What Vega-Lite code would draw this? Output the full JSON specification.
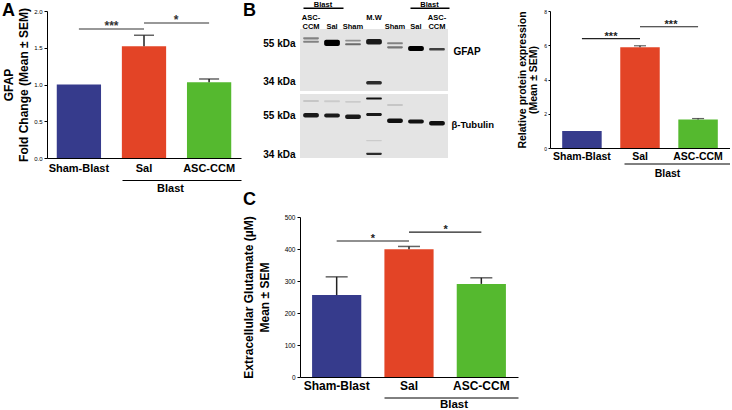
{
  "$schema": "https://vega.github.io/schema/vega-lite/v6.json",
  "padding": {"left": 2, "top": 0, "right": 0, "bottom": 0},
  "background": "white",
  "config": {
    "view": {"stroke": null},
    "font": "Liberation Sans",
    "axis": {"grid": false, "domainColor": "#000", "tickColor": "#000", "labelColor": "#000", "titleColor": "#000", "labelFont": "Liberation Sans", "titleFont": "Liberation Sans", "labelOverlap": false},
    "title": {"font": "Liberation Sans", "color": "#000"},
    "text": {"font": "Liberation Sans"}
  },
  "datasets": {
    "a": [
      {"g": "Sham-Blast", "mean": 1.0},
      {"g": "Sal", "mean": 1.52, "upper": 1.67},
      {"g": "ASC-CCM", "mean": 1.03, "upper": 1.075}
    ],
    "sa": [
      {"from": "Sham-Blast", "to": "Sal", "y": 1.755, "label": "***"},
      {"from": "Sal", "to": "ASC-CCM", "y": 1.837, "label": "*"}
    ],
    "b": [
      {"g": "Sham-Blast", "mean": 1.0},
      {"g": "Sal", "mean": 5.88, "upper": 5.97},
      {"g": "ASC-CCM", "mean": 1.66, "upper": 1.72}
    ],
    "sb": [
      {"from": "Sham-Blast", "to": "Sal", "y": 6.39, "label": "***"},
      {"from": "Sal", "to": "ASC-CCM", "y": 7.08, "label": "***"}
    ],
    "c": [
      {"g": "Sham-Blast", "mean": 256, "upper": 313},
      {"g": "Sal", "mean": 399, "upper": 408},
      {"g": "ASC-CCM", "mean": 291, "upper": 310}
    ],
    "sc": [
      {"from": "Sham-Blast", "to": "Sal", "y": 425, "label": "*"},
      {"from": "Sal", "to": "ASC-CCM", "y": 453, "label": "*"}
    ],
    "grp": [{"grp": "Blast"}],
    "gfap": [
      {"lane": 1, "hi": 59.1, "lo": 57.6, "v": 0.4},
      {"lane": 1, "hi": 56.6, "lo": 55.2, "v": 0.4},
      {"lane": 2, "hi": 57.3, "lo": 53.0, "v": 1.0},
      {"lane": 3, "hi": 57.3, "lo": 56.1, "v": 0.35},
      {"lane": 3, "hi": 54.8, "lo": 53.4, "v": 0.5},
      {"lane": 4, "hi": 57.9, "lo": 54.0, "v": 0.9},
      {"lane": 4, "hi": 34.0, "lo": 32.5, "v": 0.8},
      {"lane": 5, "hi": 55.5, "lo": 54.1, "v": 0.4},
      {"lane": 5, "hi": 52.8, "lo": 51.4, "v": 0.45},
      {"lane": 6, "hi": 53.0, "lo": 49.7, "v": 1.0},
      {"lane": 7, "hi": 51.6, "lo": 50.0, "v": 0.7}
    ],
    "tub": [
      {"lane": 1, "hi": 56.4, "lo": 53.3, "v": 0.9},
      {"lane": 1, "hi": 66.2, "lo": 64.6, "v": 0.12},
      {"lane": 2, "hi": 56.0, "lo": 53.3, "v": 0.9},
      {"lane": 2, "hi": 66.0, "lo": 64.4, "v": 0.1},
      {"lane": 3, "hi": 55.35, "lo": 52.4, "v": 0.9},
      {"lane": 3, "hi": 65.5, "lo": 64.0, "v": 0.1},
      {"lane": 4, "hi": 68.3, "lo": 66.6, "v": 0.95},
      {"lane": 4, "hi": 56.4, "lo": 54.3, "v": 0.9},
      {"lane": 4, "hi": 40.5, "lo": 39.8, "v": 0.1},
      {"lane": 4, "hi": 34.6, "lo": 33.6, "v": 0.8},
      {"lane": 5, "hi": 52.7, "lo": 49.8, "v": 0.95},
      {"lane": 5, "hi": 63.0, "lo": 61.5, "v": 0.12},
      {"lane": 6, "hi": 52.0, "lo": 49.55, "v": 0.95},
      {"lane": 7, "hi": 51.1, "lo": 48.3, "v": 0.95}
    ],
    "panel": [{"t": 0}]
  },
  "columns": 3,
  "align": "each",
  "bounds": "flush",
  "spacing": {"row": 59, "column": 32},
  "concat": [
    {
      "width": 194, "height": 147,
      "title": {"text": "A", "anchor": "start", "frame": "group", "dx": -45, "offset": -26, "baseline": "alphabetic", "fontSize": 18, "fontWeight": "bold"},
      "layer": [
        {
          "data": {"name": "a"},
          "mark": {"type": "bar"},
          "encoding": {
            "x": {"field": "g", "type": "nominal", "sort": null,
              "scale": {"domain": ["Sham-Blast", "Sal", "ASC-CCM"], "paddingInner": 0.32, "paddingOuter": 0.15},
              "axis": {"title": null, "labelAngle": 0, "labelFontSize": 11, "labelFontWeight": "bold", "ticks": false, "tickSize": 0, "labelPadding": 4, "domainWidth": 1}},
            "y": {"field": "mean", "type": "quantitative", "scale": {"domain": [0, 2], "nice": false},
              "axis": {"values": [0, 0.5, 1, 1.5, 2], "tickCount": 10, "format": ".1f", "labelOverlap": false, "labelFontSize": 6, "tickSize": 3, "labelPadding": 2, "title": ["GFAP", "Fold Change (Mean ± SEM)"], "titleFontSize": 12, "titleFontWeight": "bold", "titlePadding": 3, "titleLineHeight": 15, "domainWidth": 1}},
            "color": {"field": "g", "type": "nominal", "scale": {"domain": ["Sham-Blast", "Sal", "ASC-CCM"], "range": ["#363b8c", "#e34426", "#55b92f"]}, "legend": null}
          }
        },
        {
          "data": {"name": "a"},
          "transform": [{"filter": "isValid(datum.upper)"}],
          "mark": {"type": "rule", "strokeWidth": 1.5, "color": "#222"},
          "encoding": {
            "x": {"field": "g", "type": "nominal", "sort": null, "scale": {"domain": ["Sham-Blast", "Sal", "ASC-CCM"], "paddingInner": 0.32, "paddingOuter": 0.15}, "axis": null},
            "y": {"field": "mean", "type": "quantitative"}, "y2": {"field": "upper"}}
        },
        {
          "data": {"name": "a"},
          "transform": [{"filter": "isValid(datum.upper)"}],
          "mark": {"type": "tick", "orient": "horizontal", "size": 20, "thickness": 1.5, "color": "#222"},
          "encoding": {
            "x": {"field": "g", "type": "nominal", "sort": null, "scale": {"domain": ["Sham-Blast", "Sal", "ASC-CCM"], "paddingInner": 0.32, "paddingOuter": 0.15}, "axis": null},
            "y": {"field": "upper", "type": "quantitative"}}
        },
        {
          "data": {"name": "sa"},
          "mark": {"type": "rule", "strokeWidth": 1.2, "color": "#333"},
          "encoding": {
            "x": {"field": "from", "type": "nominal", "sort": null, "scale": {"domain": ["Sham-Blast", "Sal", "ASC-CCM"], "paddingInner": 0.32, "paddingOuter": 0.15}, "axis": null},
            "x2": {"field": "to"}, "y": {"field": "y", "type": "quantitative"}}
        },
        {
          "data": {"name": "sa"},
          "mark": {"type": "text", "fontSize": 12, "fontWeight": "bold", "baseline": "alphabetic", "dy": 1, "dx": -32.5, "color": "#333"},
          "encoding": {
            "x": {"field": "to", "type": "nominal", "sort": null, "scale": {"domain": ["Sham-Blast", "Sal", "ASC-CCM"], "paddingInner": 0.32, "paddingOuter": 0.15}, "axis": null},
            "y": {"field": "y", "type": "quantitative"}, "text": {"field": "label"}}
        },
        {
          "data": {"name": "grp"},
          "mark": {"type": "point", "opacity": 0},
          "encoding": {
            "x": {"field": "grp", "type": "nominal",
              "scale": {"type": "band", "domain": ["Blast"], "range": [75, 194], "paddingInner": 0, "paddingOuter": 0},
              "axis": {"orient": "bottom", "offset": 22, "title": null, "ticks": false, "tickSize": 0, "domainWidth": 1, "labelFontSize": 11, "labelFontWeight": "bold", "labelPadding": 2.5, "labelOffset": -11, "labelAngle": 0}},
            "y": {"datum": 0, "type": "quantitative"}
          }
        }
      ],
      "resolve": {"scale": {"x": "independent"}}
    },
    {
      "width": 148, "height": 147,
      "title": {"text": "B", "anchor": "start", "frame": "group", "dx": -57, "offset": -33, "baseline": "alphabetic", "fontSize": 18, "fontWeight": "bold"},
      "layer": [
        {
          "data": {"name": "panel"},
          "mark": {"type": "rect", "color": "#e4e4e4"},
          "encoding": {
            "y": {"datum": 65.7, "type": "quantitative", "scale": {"type": "log", "domain": [29.96, 65.7], "range": [80, 18], "nice": false}, "axis": null},
            "y2": {"datum": 29.96}
          }
        },
        {
          "data": {"name": "panel"},
          "mark": {"type": "rect", "color": "#e4e4e4"},
          "encoding": {
            "y": {"datum": 71.3, "type": "quantitative", "scale": {"type": "log", "domain": [32.4, 71.3], "range": [147, 83], "nice": false}, "axis": null},
            "y2": {"datum": 32.4}
          }
        },
        {
          "data": {"name": "gfap"},
          "mark": {"type": "rect", "cornerRadius": 2},
          "encoding": {
            "x": {"field": "lane", "type": "ordinal", "scale": {"domain": [1, 2, 3, 4, 5, 6, 7], "paddingInner": 0.25, "paddingOuter": 0.15},
              "axis": {"orient": "top", "offset": -18, "title": null, "domain": false, "ticks": false, "tickSize": 0, "labelAngle": 0, "labelFontSize": 7.5, "labelFontWeight": "bold", "labelPadding": 8, "labelLineHeight": 9,
                "labelExpr": "datum.value == 1 || datum.value == 7 ? ['ASC-', 'CCM'] : datum.value == 4 ? ['M.W', ' '] : (datum.value == 2 || datum.value == 6) ? [' ', 'Sal'] : [' ', 'Sham']"}},
            "y": {"field": "hi", "type": "quantitative", "scale": {"type": "log", "domain": [29.96, 65.7], "range": [80, 18], "nice": false},
              "axis": {"orient": "left", "values": [55, 34], "labelExpr": "datum.value + ' kDa'", "domain": false, "ticks": false, "tickSize": 0, "labelFontSize": 10, "labelFontWeight": "bold", "labelPadding": 5, "title": null}},
            "y2": {"field": "lo"},
            "color": {"field": "v", "type": "quantitative", "scale": {"domain": [0, 1], "range": ["#e4e4e4", "#000000"]}, "legend": null}
          }
        },
        {
          "data": {"name": "tub"},
          "mark": {"type": "rect", "cornerRadius": 2},
          "encoding": {
            "x": {"field": "lane", "type": "ordinal", "scale": {"domain": [1, 2, 3, 4, 5, 6, 7], "paddingInner": 0.25, "paddingOuter": 0.15}, "axis": null},
            "y": {"field": "hi", "type": "quantitative", "scale": {"type": "log", "domain": [32.4, 71.3], "range": [147, 83], "nice": false},
              "axis": {"orient": "left", "values": [55, 34], "labelExpr": "datum.value + ' kDa'", "domain": false, "ticks": false, "tickSize": 0, "labelFontSize": 10, "labelFontWeight": "bold", "labelPadding": 5, "title": null}},
            "y2": {"field": "lo"},
            "color": {"field": "v", "type": "quantitative", "scale": {"domain": [0, 1], "range": ["#e4e4e4", "#000000"]}, "legend": null}
          }
        },
        {
          "data": {"name": "gfap"},
          "mark": {"type": "point", "opacity": 0},
          "encoding": {
            "x": {"field": "lane", "type": "ordinal", "scale": {"domain": [1, 2, 3, 4, 5, 6, 7]}, "axis": null},
            "y": {"field": "hi", "type": "quantitative", "scale": {"type": "log", "domain": [29.96, 65.7], "range": [80, 18], "nice": false},
              "axis": {"orient": "right", "title": "GFAP", "labels": false, "ticks": false, "domain": false, "titleAngle": 0, "titleAlign": "left", "titleBaseline": "middle", "titleX": 5, "titleY": 40, "titleFontSize": 10, "titleFontWeight": "bold"}}
          }
        },
        {
          "data": {"name": "tub"},
          "mark": {"type": "point", "opacity": 0},
          "encoding": {
            "x": {"field": "lane", "type": "ordinal", "scale": {"domain": [1, 2, 3, 4, 5, 6, 7]}, "axis": null},
            "y": {"field": "hi", "type": "quantitative", "scale": {"type": "log", "domain": [32.4, 71.3], "range": [147, 83], "nice": false},
              "axis": {"orient": "right", "title": "β-Tubulin", "labels": false, "ticks": false, "domain": false, "titleAngle": 0, "titleAlign": "left", "titleBaseline": "middle", "titleX": 3, "titleY": 113, "titleFontSize": 9.5, "titleFontWeight": "bold"}}
          }
        },
        {
          "data": {"name": "grp"},
          "mark": {"type": "point", "opacity": 0},
          "encoding": {
            "x": {"field": "grp", "type": "nominal",
              "scale": {"type": "band", "domain": ["Blast"], "range": [3, 43], "paddingInner": 0, "paddingOuter": 0},
              "axis": {"orient": "top", "offset": 3.2, "title": null, "ticks": false, "tickSize": 0, "domainWidth": 1.5, "labelFontSize": 7.5, "labelFontWeight": "bold", "labelPadding": -1, "labelAngle": 0}},
            "y": {"datum": 50, "type": "quantitative", "scale": {"domain": [0, 100]}, "axis": null}
          }
        },
        {
          "data": {"name": "grp"},
          "mark": {"type": "point", "opacity": 0},
          "encoding": {
            "x": {"field": "grp", "type": "nominal",
              "scale": {"type": "band", "domain": ["Blast"], "range": [110, 149], "paddingInner": 0, "paddingOuter": 0},
              "axis": {"orient": "top", "offset": 3.2, "title": null, "ticks": false, "tickSize": 0, "domainWidth": 1.5, "labelFontSize": 7.5, "labelFontWeight": "bold", "labelPadding": -1, "labelAngle": 0}},
            "y": {"datum": 50, "type": "quantitative", "scale": {"domain": [0, 100]}, "axis": null}
          }
        }
      ],
      "resolve": {"scale": {"x": "independent", "y": "independent"}, "axis": {"x": "independent", "y": "independent"}}
    },
    {
      "width": 180, "height": 137,
      "layer": [
        {
          "data": {"name": "b"},
          "mark": {"type": "bar"},
          "encoding": {
            "x": {"field": "g", "type": "nominal", "sort": null,
              "scale": {"domain": ["Sham-Blast", "Sal", "ASC-CCM"], "paddingInner": 0.32, "paddingOuter": 0.21},
              "axis": {"title": null, "labelAngle": 0, "labelFontSize": 10.5, "labelFontWeight": "bold", "ticks": false, "tickSize": 0, "labelPadding": 3, "domainWidth": 1}},
            "y": {"field": "mean", "type": "quantitative", "scale": {"domain": [0, 8], "nice": false},
              "axis": {"values": [0, 2, 4, 6, 8], "tickCount": 10, "format": "d", "labelOverlap": false, "labelFontSize": 5, "tickSize": 2, "labelPadding": 1.5, "title": ["Relative protein expression", "(Mean ± SEM)"], "titleFontSize": 10.5, "titleFontWeight": "bold", "titlePadding": 5, "titleLineHeight": 11, "domainWidth": 1}},
            "color": {"field": "g", "type": "nominal", "scale": {"domain": ["Sham-Blast", "Sal", "ASC-CCM"], "range": ["#363b8c", "#e34426", "#55b92f"]}, "legend": null}
          }
        },
        {
          "data": {"name": "b"},
          "transform": [{"filter": "isValid(datum.upper)"}],
          "mark": {"type": "rule", "strokeWidth": 1.2, "color": "#222"},
          "encoding": {
            "x": {"field": "g", "type": "nominal", "sort": null, "scale": {"domain": ["Sham-Blast", "Sal", "ASC-CCM"], "paddingInner": 0.32, "paddingOuter": 0.21}, "axis": null},
            "y": {"field": "mean", "type": "quantitative"}, "y2": {"field": "upper"}}
        },
        {
          "data": {"name": "b"},
          "transform": [{"filter": "isValid(datum.upper)"}],
          "mark": {"type": "tick", "orient": "horizontal", "size": 12, "thickness": 1.2, "color": "#222"},
          "encoding": {
            "x": {"field": "g", "type": "nominal", "sort": null, "scale": {"domain": ["Sham-Blast", "Sal", "ASC-CCM"], "paddingInner": 0.32, "paddingOuter": 0.21}, "axis": null},
            "y": {"field": "upper", "type": "quantitative"}}
        },
        {
          "data": {"name": "sb"},
          "mark": {"type": "rule", "strokeWidth": 1.2, "color": "#222"},
          "encoding": {
            "x": {"field": "from", "type": "nominal", "sort": null, "scale": {"domain": ["Sham-Blast", "Sal", "ASC-CCM"], "paddingInner": 0.32, "paddingOuter": 0.21}, "axis": null},
            "x2": {"field": "to"}, "y": {"field": "y", "type": "quantitative"}}
        },
        {
          "data": {"name": "sb"},
          "mark": {"type": "text", "fontSize": 11, "fontWeight": "bold", "baseline": "alphabetic", "dy": 1, "dx": -29, "color": "#222"},
          "encoding": {
            "x": {"field": "to", "type": "nominal", "sort": null, "scale": {"domain": ["Sham-Blast", "Sal", "ASC-CCM"], "paddingInner": 0.32, "paddingOuter": 0.21}, "axis": null},
            "y": {"field": "y", "type": "quantitative"}, "text": {"field": "label"}}
        },
        {
          "data": {"name": "grp"},
          "mark": {"type": "point", "opacity": 0},
          "encoding": {
            "x": {"field": "grp", "type": "nominal",
              "scale": {"type": "band", "domain": ["Blast"], "range": [74, 180], "paddingInner": 0, "paddingOuter": 0},
              "axis": {"orient": "bottom", "offset": 15.5, "title": null, "ticks": false, "tickSize": 0, "domainWidth": 1, "labelFontSize": 10.5, "labelFontWeight": "bold", "labelPadding": 5, "labelOffset": -9.5, "labelAngle": 0}},
            "y": {"datum": 0, "type": "quantitative"}
          }
        }
      ],
      "resolve": {"scale": {"x": "independent"}}
    },
    {
      "width": 221, "height": 1,
      "data": {"name": "panel"},
      "mark": {"type": "point", "opacity": 0},
      "encoding": {
        "x": {"field": "t", "type": "quantitative", "axis": null},
        "y": {"field": "t", "type": "quantitative", "axis": null}
      }
    },
    {
      "width": 218, "height": 160,
      "title": {"text": "C", "anchor": "start", "frame": "group", "dx": -57, "offset": -8.5, "baseline": "alphabetic", "fontSize": 18, "fontWeight": "bold"},
      "layer": [
        {
          "data": {"name": "c"},
          "mark": {"type": "bar"},
          "encoding": {
            "x": {"field": "g", "type": "nominal", "sort": null,
              "scale": {"domain": ["Sham-Blast", "Sal", "ASC-CCM"], "paddingInner": 0.32, "paddingOuter": 0.167},
              "axis": {"title": null, "labelAngle": 0, "labelFontSize": 12, "labelFontWeight": "bold", "ticks": false, "tickSize": 0, "labelPadding": 3.5, "domainWidth": 1}},
            "y": {"field": "mean", "type": "quantitative", "scale": {"domain": [0, 500], "nice": false},
              "axis": {"values": [0, 100, 200, 300, 400, 500], "tickCount": 10, "labelOverlap": false, "labelFontSize": 6.5, "tickSize": 3, "labelPadding": 2, "title": ["Extracellular Glutamate (µM)", "Mean ± SEM"], "titleFontSize": 12, "titleFontWeight": "bold", "titlePadding": 13, "titleLineHeight": 16, "domainWidth": 1}},
            "color": {"field": "g", "type": "nominal", "scale": {"domain": ["Sham-Blast", "Sal", "ASC-CCM"], "range": ["#363b8c", "#e34426", "#55b92f"]}, "legend": null}
          }
        },
        {
          "data": {"name": "c"},
          "mark": {"type": "rule", "strokeWidth": 1.5, "color": "#222"},
          "encoding": {
            "x": {"field": "g", "type": "nominal", "sort": null, "scale": {"domain": ["Sham-Blast", "Sal", "ASC-CCM"], "paddingInner": 0.32, "paddingOuter": 0.167}, "axis": null},
            "y": {"field": "mean", "type": "quantitative"}, "y2": {"field": "upper"}}
        },
        {
          "data": {"name": "c"},
          "mark": {"type": "tick", "orient": "horizontal", "size": 22, "thickness": 1.5, "color": "#222"},
          "encoding": {
            "x": {"field": "g", "type": "nominal", "sort": null, "scale": {"domain": ["Sham-Blast", "Sal", "ASC-CCM"], "paddingInner": 0.32, "paddingOuter": 0.167}, "axis": null},
            "y": {"field": "upper", "type": "quantitative"}}
        },
        {
          "data": {"name": "sc"},
          "mark": {"type": "rule", "strokeWidth": 1.2, "color": "#222"},
          "encoding": {
            "x": {"field": "from", "type": "nominal", "sort": null, "scale": {"domain": ["Sham-Blast", "Sal", "ASC-CCM"], "paddingInner": 0.32, "paddingOuter": 0.167}, "axis": null},
            "x2": {"field": "to"}, "y": {"field": "y", "type": "quantitative"}}
        },
        {
          "data": {"name": "sc"},
          "mark": {"type": "text", "fontSize": 11, "fontWeight": "bold", "baseline": "alphabetic", "dy": 1, "dx": -36, "color": "#222"},
          "encoding": {
            "x": {"field": "to", "type": "nominal", "sort": null, "scale": {"domain": ["Sham-Blast", "Sal", "ASC-CCM"], "paddingInner": 0.32, "paddingOuter": 0.167}, "axis": null},
            "y": {"field": "y", "type": "quantitative"}, "text": {"field": "label"}}
        },
        {
          "data": {"name": "grp"},
          "mark": {"type": "point", "opacity": 0},
          "encoding": {
            "x": {"field": "grp", "type": "nominal",
              "scale": {"type": "band", "domain": ["Blast"], "range": [84, 218], "paddingInner": 0, "paddingOuter": 0},
              "axis": {"orient": "bottom", "offset": 20.5, "title": null, "ticks": false, "tickSize": 0, "domainWidth": 1, "labelFontSize": 11.5, "labelFontWeight": "bold", "labelPadding": 0.5, "labelOffset": 3, "labelAngle": 0}},
            "y": {"datum": 0, "type": "quantitative"}
          }
        }
      ],
      "resolve": {"scale": {"x": "independent"}}
    }
  ]
}
